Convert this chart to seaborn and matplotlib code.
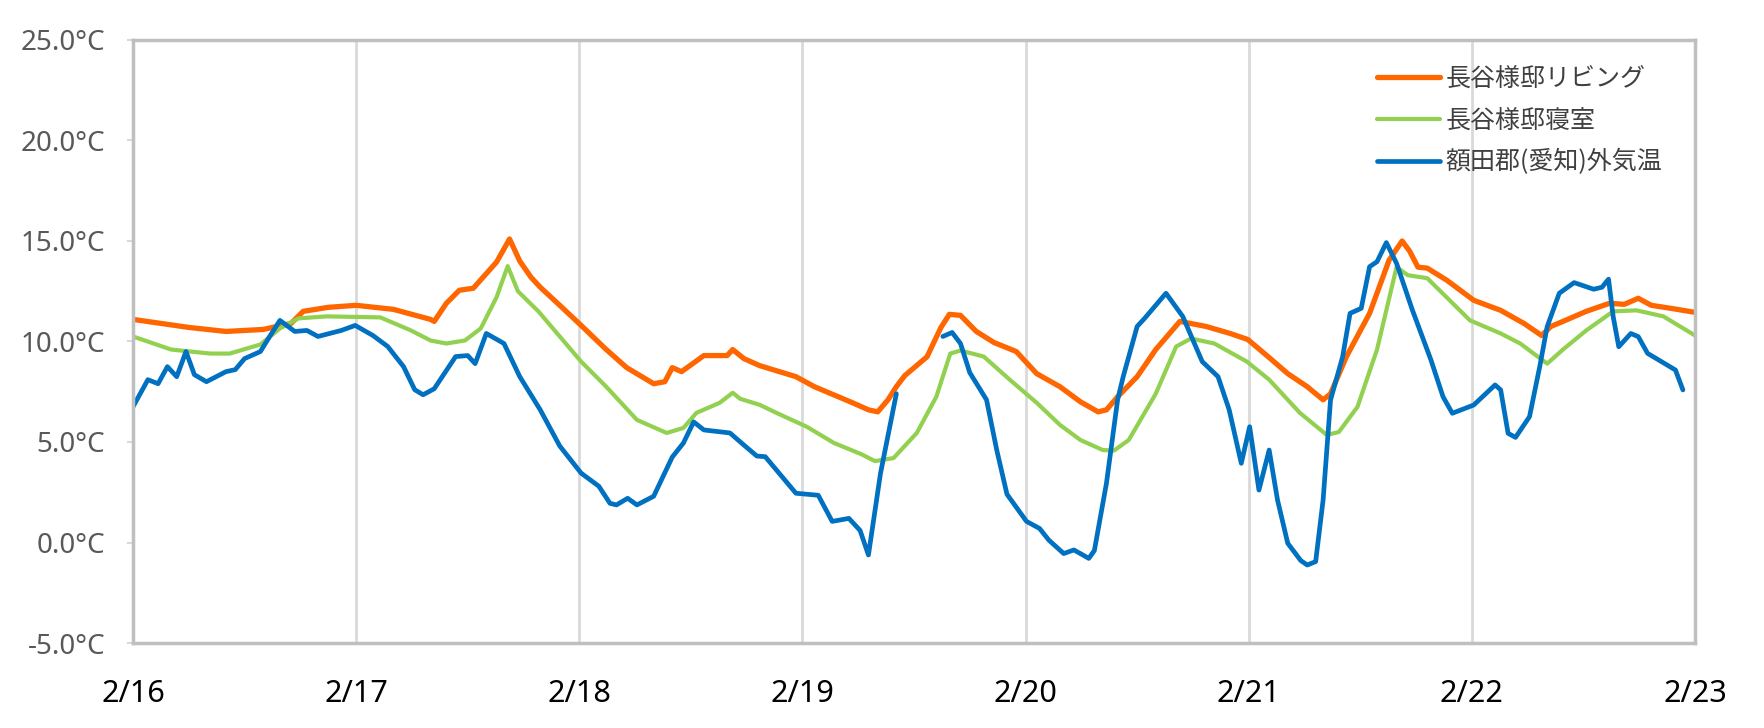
import pandas as pd
import seaborn as sns
import matplotlib.pyplot as plt
from matplotlib.font_manager import FontProperties


# Tick labels
day_labels = ["2/16", "2/17", "2/18", "2/19", "2/20", "2/21", "2/22", "2/23"]
temp_ticks = [-5, 0, 5, 10, 15, 20, 25]

series_names = ["長谷様邸リビング", "長谷様邸寝室", "額田郡(愛知)外気温"]
series_colors = ["#FF6600", "#92D050", "#0070C0"]

# Living room (hours since 2/16 0:00, degC)
living_hours = [0, 6, 10, 14, 17, 18.3, 21, 24, 28, 32, 32.4, 33.7, 35.1, 36.6, 39.1,
                40.5, 41.6, 42.8, 43.8, 45.9, 48.2, 50.9, 53.1, 56.0, 57.2, 58.0, 59.0,
                61.4, 63.9, 64.5, 65.7, 67.4, 71.3, 73.3, 77.4, 79.1, 80.1, 81.2, 82.1,
                83.0, 85.4, 86.9, 87.8, 89.0, 90.7, 92.6, 95.0, 97.2, 99.7, 101.9, 103.8,
                104.7, 105.9, 108.0, 110.0, 112.6, 115.4, 118.0, 119.9, 122.1, 124.2,
                126.3, 128.0, 128.8, 130.5, 133.0, 135.1, 136.5, 137.3, 138.2, 139.2,
                141.3, 144.2, 147.1, 149.6, 151.5, 152.5, 153.8, 156.3, 158.8, 160.4,
                161.9, 163.3, 165.4, 168]
living_temp = [11.1, 10.7, 10.5, 10.6, 10.9, 11.5, 11.7, 11.8, 11.6, 11.1, 11.0, 11.9,
               12.55, 12.65, 13.95, 15.1, 14.0, 13.2, 12.7, 11.8, 10.8, 9.6, 8.7, 7.9,
               8.0, 8.7, 8.5, 9.3, 9.3, 9.6, 9.15, 8.8, 8.25, 7.75, 6.95, 6.6, 6.5, 7.1,
               7.75, 8.3, 9.24, 10.7, 11.35, 11.3, 10.5, 9.95, 9.5, 8.4, 7.75, 7.0, 6.5,
               6.6, 7.25, 8.25, 9.6, 11.0, 10.75, 10.4, 10.1, 9.24, 8.4, 7.75, 7.1, 7.4,
               9.24, 11.4, 14.05, 15.0, 14.5, 13.7, 13.65, 13.05, 12.05, 11.55, 10.9,
               10.3, 10.75, 11.0, 11.5, 11.9, 11.85, 12.15, 11.8, 11.65, 11.45]

# Bedroom
bedroom_hours = [0, 4.1, 8.3, 10.4, 13.7, 15.8, 17.8, 20.8, 26.6, 29.9, 32.0, 33.7,
                 35.7, 37.4, 39.1, 40.3, 41.4, 43.6, 48.2, 50.9, 54.2, 57.4, 59.2, 60.6,
                 63.1, 64.5, 65.3, 67.4, 69.2, 72.5, 75.4, 78.3, 79.8, 81.8, 84.3, 86.4,
                 87.9, 89.0, 91.5, 94.3, 97.2, 99.7, 101.9, 104.3, 105.5, 107.1, 110.0,
                 112.2, 113.8, 116.3, 119.8, 122.2, 125.5, 128.4, 129.7, 131.7, 133.8,
                 135.9, 137.1, 139.2, 143.8, 147.1, 149.2, 152.1, 153.8, 156.3, 159.2,
                 161.7, 164.6, 168]
bedroom_temp = [10.25, 9.6, 9.4, 9.4, 9.85, 10.65, 11.15, 11.25, 11.2, 10.55, 10.05,
                9.9, 10.05, 10.65, 12.2, 13.75, 12.5, 11.5, 9.0, 7.75, 6.1, 5.45, 5.7,
                6.45, 6.95, 7.45, 7.15, 6.85, 6.45, 5.75, 4.95, 4.4, 4.05, 4.2, 5.45,
                7.25, 9.4, 9.55, 9.25, 8.1, 6.95, 5.85, 5.1, 4.6, 4.57, 5.1, 7.4, 9.75,
                10.15, 9.9, 9.0, 8.1, 6.45, 5.35, 5.5, 6.75, 9.6, 13.7, 13.3, 13.15,
                11.05, 10.4, 9.9, 8.9, 9.6, 10.55, 11.5, 11.55, 11.25, 10.3]

# Outside air, two pieces (data missing in between)
outside_hours_1 = [0, 1.6, 2.7, 3.7, 4.7, 5.7, 6.6, 7.9, 10.0, 11.0, 12.0, 13.7, 14.7,
                   15.8, 17.4, 18.7, 19.9, 22.4, 23.9, 25.8, 27.4, 29.1, 30.3, 31.2,
                   32.4, 34.7, 36.0, 36.8, 38.0, 39.9, 41.6, 43.8, 45.9, 48.2, 50.1,
                   51.3, 52.0, 53.2, 54.2, 56.0, 58.0, 59.2, 60.3, 61.4, 64.2, 65.7,
                   67.1, 68.0, 71.3, 73.7, 75.2, 77.0, 78.2, 79.1, 80.4, 82.1]
outside_temp_1 = [6.75, 8.1, 7.9, 8.75, 8.25, 9.5, 8.35, 8.0, 8.5, 8.6, 9.15, 9.5,
                  10.25, 11.05, 10.5, 10.55, 10.25, 10.55, 10.8, 10.3, 9.75, 8.75, 7.6,
                  7.35, 7.65, 9.25, 9.3, 8.9, 10.4, 9.9, 8.25, 6.6, 4.8, 3.45, 2.8,
                  1.95, 1.87, 2.2, 1.87, 2.3, 4.25, 4.95, 6.0, 5.6, 5.45, 4.85, 4.3,
                  4.27, 2.45, 2.35, 1.05, 1.2, 0.6, -0.62, 3.45, 7.4]
outside_hours_2 = [87.1, 88.1, 89.0, 90.0, 91.8, 92.9, 94.0, 96.1, 97.5, 98.5, 100.1,
                   101.2, 102.8, 103.4, 104.7, 105.9, 106.5, 108.0, 108.8, 111.1,
                   112.9, 115.0, 116.7, 117.9, 119.2, 120.1, 121.1, 122.2, 123.1,
                   124.2, 125.6, 126.3, 127.2, 128.0, 128.8, 130.1, 130.9, 132.1,
                   133.0, 133.8, 134.8, 135.9, 137.6, 139.6, 140.9, 141.9, 144.2,
                   146.5, 147.1, 147.9, 148.7, 150.2, 151.3, 152.1, 153.4, 155.0,
                   157.1, 158.0, 158.7, 159.2, 159.8, 161.1, 161.9, 162.9, 165.0,
                   165.9, 166.7]
outside_temp_2 = [10.25, 10.45, 9.9, 8.45, 7.1, 4.6, 2.4, 1.05, 0.7, 0.12, -0.55,
                  -0.37, -0.79, -0.4, 2.95, 7.1, 8.25, 10.75, 11.15, 12.4, 11.25, 9.0,
                  8.25, 6.6, 3.94, 5.76, 2.61, 4.6, 2.11, -0.04, -0.9, -1.12, -0.95,
                  2.11, 7.09, 9.24, 11.4, 11.65, 13.72, 13.97, 14.92, 13.89, 11.57,
                  9.08, 7.25, 6.43, 6.84, 7.84, 7.59, 5.43, 5.23, 6.26, 8.75, 10.74,
                  12.4, 12.93, 12.6, 12.7, 13.1, 11.24, 9.74, 10.4, 10.24, 9.41, 8.83,
                  8.58, 7.59]


def make_frame(hours, temps, name, seg):
    return pd.DataFrame({"day": [h / 24 for h in hours], "temp": temps,
                         "series": name, "seg": seg})


df = pd.concat([
    make_frame(living_hours, living_temp, series_names[0], 0),
    make_frame(bedroom_hours, bedroom_temp, series_names[1], 0),
    make_frame(outside_hours_1, outside_temp_1, series_names[2], 0),
    make_frame(outside_hours_2, outside_temp_2, series_names[2], 1),
], ignore_index=True)

sns.set_style("white")
plt.rcParams["font.family"] = ["Noto Sans", "DejaVu Sans"]

fig = plt.figure(figsize=(17.64, 7.28), dpi=100)
ax = fig.add_axes([133 / 1764, 1 - 643 / 728, (1695 - 133) / 1764, (643 - 40) / 728])

widths = [3.8, 3.0, 3.4]
for name, color, lw in zip(series_names, series_colors, widths):
    sns.lineplot(data=df[df["series"] == name], x="day", y="temp", units="seg",
                 estimator=None, color=color, linewidth=lw, label=name, ax=ax,
                 sort=False)

ax.set_xlim(0, 7)
ax.set_ylim(-5, 25)
ax.set_xticks(range(len(day_labels)))
ax.set_xticklabels(day_labels)
ax.set_yticks(temp_ticks)
ax.set_yticklabels([f"{t:.1f}°C" for t in temp_ticks])
ax.set_xlabel("")
ax.set_ylabel("")

ax.grid(axis="x", color="#D9D9D9", linewidth=2.0)
ax.grid(axis="y", visible=False)
for sp in ax.spines.values():
    sp.set_visible(True)
    sp.set_color("#BFBFBF")
    sp.set_linewidth(2.5)

ax.tick_params(axis="y", length=4, width=1.5, color="#D9D9D9", pad=16,
               labelsize=20, labelcolor="#595959", left=True)
ax.tick_params(axis="x", length=0, pad=26, labelsize=22, labelcolor="black")

# legend, one entry per series
handles, labels = ax.get_legend_handles_labels()
uniq = dict(zip(labels, handles))
ax.legend([uniq[n] for n in series_names], series_names,
          loc="upper left", bbox_to_anchor=(1377 / 1764, 1 - 66 / 728),
          bbox_transform=fig.transFigure, frameon=False, borderpad=0,
          borderaxespad=0, handlelength=2.5, handletextpad=0.25, labelspacing=0.62,
          labelcolor="#404040",
          prop=FontProperties(family=["Noto Sans CJK JP", "DejaVu Sans"], size=18))

fig.savefig("out.png", dpi=100)
